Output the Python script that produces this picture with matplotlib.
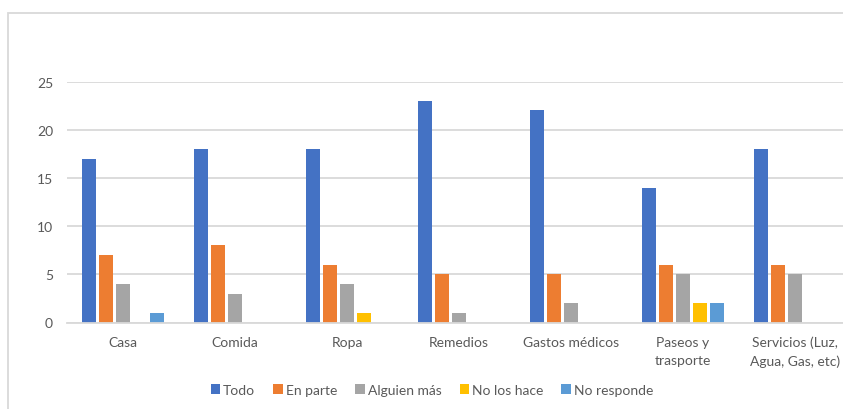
import matplotlib.pyplot as plt
import numpy as np
from matplotlib.patches import Rectangle

categories = ["Casa", "Comida", "Ropa", "Remedios", "Gastos médicos",
              "Paseos y\ntrasporte", "Servicios (Luz,\nAgua, Gas, etc)"]
series = ["Todo", "En parte", "Alguien más", "No los hace", "No responde"]
todo = [17, 18, 18, 23, 22, 14, 18]
en_parte = [7, 8, 6, 5, 5, 6, 6]
alguien_mas = [4, 3, 4, 1, 2, 5, 5]
no_los_hace = [0, 0, 1, 0, 0, 2, 0]
no_responde = [1, 0, 0, 0, 0, 2, 0]
colors = ["#4472C4", "#ED7D31", "#A5A5A5", "#FFC000", "#5B9BD5"]

plt.rcParams["font.family"] = ["Lato", "DejaVu Sans"]
text_color = "#595959"
grid_color = "#D9D9D9"

fig = plt.figure(figsize=(8.43, 4.10), dpi=100)
ax = fig.add_axes([67 / 843, 86.5 / 410, 784 / 843, 241 / 410])

x = np.arange(len(categories))
slot = 0.152
width = 0.125
values = [todo, en_parte, alguien_mas, no_los_hace, no_responde]
for i, (name, vals) in enumerate(zip(series, values)):
    offs = (i - 2) * slot
    ax.bar(x + offs, vals, width=width, color=colors[i], label=name, zorder=3)

ax.set_xlim(-0.5, len(categories) - 0.5)
ax.set_ylim(0, 25)
ax.set_yticks(range(0, 26, 5))
ax.set_xticks(x)
ax.set_xticklabels(categories, linespacing=1.6)
ax.grid(axis="y", color=grid_color, linewidth=1.3, zorder=0)
for side in ["top", "right", "left"]:
    ax.spines[side].set_visible(False)
ax.spines["bottom"].set_color(grid_color)
ax.spines["bottom"].set_linewidth(1.3)
ax.spines["bottom"].set_zorder(4)
ax.tick_params(axis="both", length=0, labelsize=10, colors=text_color)
ax.tick_params(axis="x", pad=9.5)
ax.tick_params(axis="y", pad=10)

# chart area border
fig.patches.append(Rectangle((8 / 843, -0.1), 1.2, 1 - 13.5 / 410 + 0.1,
                             transform=fig.transFigure, fill=False,
                             edgecolor=grid_color, linewidth=1.3))

fig.legend(loc="center", bbox_to_anchor=(432 / 843, 1 - 391 / 410), ncol=5,
           frameon=False, fontsize=10, handlelength=0.7, handleheight=0.7,
           handletextpad=0.2, columnspacing=1.3, labelcolor=text_color)

fig.savefig("out.png", dpi=100)
